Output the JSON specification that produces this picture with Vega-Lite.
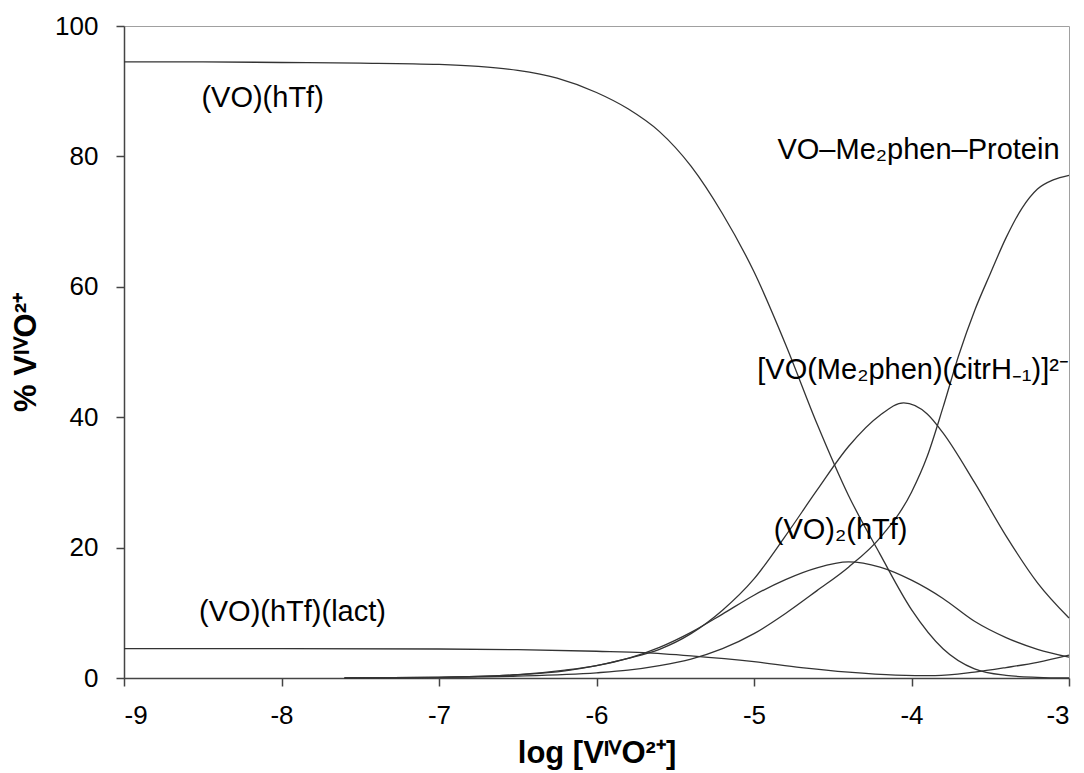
{
  "$schema": "https://vega.github.io/schema/vega-lite/v6.json",
  "width": 945,
  "height": 652,
  "autosize": {"type": "none"},
  "padding": {"left": 124, "top": 26, "right": 15, "bottom": 95},
  "background": "white",
  "config": {
    "view": {"stroke": "#a0a0a0", "strokeWidth": 1},
    "font": "Liberation Sans",
    "axis": {
      "grid": false,
      "domainColor": "#444444",
      "domainWidth": 1.5,
      "tickColor": "#444444",
      "tickWidth": 1.5,
      "tickSize": 8,
      "labelFont": "Liberation Sans",
      "labelFontSize": 26,
      "labelColor": "#000000",
      "titleFont": "Liberation Sans",
      "titleFontSize": 31,
      "titleFontWeight": "bold",
      "titleColor": "#000000"
    }
  },
  "datasets": {
    "curves": [
      {"species": "VOhTf", "x": -9.0, "y": 94.5},
      {"species": "VOhTf", "x": -8.5, "y": 94.5},
      {"species": "VOhTf", "x": -8.0, "y": 94.4},
      {"species": "VOhTf", "x": -7.5, "y": 94.3},
      {"species": "VOhTf", "x": -7.0, "y": 94.1},
      {"species": "VOhTf", "x": -6.75, "y": 93.8},
      {"species": "VOhTf", "x": -6.5, "y": 93.2},
      {"species": "VOhTf", "x": -6.25, "y": 92.0},
      {"species": "VOhTf", "x": -6.0, "y": 89.8},
      {"species": "VOhTf", "x": -5.8, "y": 87.3},
      {"species": "VOhTf", "x": -5.6, "y": 83.8},
      {"species": "VOhTf", "x": -5.4, "y": 78.5},
      {"species": "VOhTf", "x": -5.2, "y": 71.2},
      {"species": "VOhTf", "x": -5.0, "y": 62.3},
      {"species": "VOhTf", "x": -4.8, "y": 51.2},
      {"species": "VOhTf", "x": -4.6, "y": 39.0},
      {"species": "VOhTf", "x": -4.4, "y": 28.0},
      {"species": "VOhTf", "x": -4.2, "y": 19.0},
      {"species": "VOhTf", "x": -4.0, "y": 10.5},
      {"species": "VOhTf", "x": -3.8, "y": 4.5},
      {"species": "VOhTf", "x": -3.6, "y": 1.4},
      {"species": "VOhTf", "x": -3.4, "y": 0.4},
      {"species": "VOhTf", "x": -3.2, "y": 0.1},
      {"species": "VOhTf", "x": -3.0, "y": 0.0},

      {"species": "Protein", "x": -7.6, "y": 0.0},
      {"species": "Protein", "x": -7.0, "y": 0.1},
      {"species": "Protein", "x": -6.5, "y": 0.3},
      {"species": "Protein", "x": -6.0, "y": 0.8},
      {"species": "Protein", "x": -5.8, "y": 1.2},
      {"species": "Protein", "x": -5.6, "y": 1.9},
      {"species": "Protein", "x": -5.4, "y": 2.9},
      {"species": "Protein", "x": -5.2, "y": 4.5},
      {"species": "Protein", "x": -5.0, "y": 6.8},
      {"species": "Protein", "x": -4.8, "y": 9.9},
      {"species": "Protein", "x": -4.6, "y": 13.4},
      {"species": "Protein", "x": -4.4, "y": 17.0},
      {"species": "Protein", "x": -4.2, "y": 21.5},
      {"species": "Protein", "x": -4.0, "y": 28.5},
      {"species": "Protein", "x": -3.9, "y": 34.0},
      {"species": "Protein", "x": -3.8, "y": 41.5},
      {"species": "Protein", "x": -3.7, "y": 49.5},
      {"species": "Protein", "x": -3.6, "y": 56.3},
      {"species": "Protein", "x": -3.5, "y": 62.0},
      {"species": "Protein", "x": -3.4, "y": 67.5},
      {"species": "Protein", "x": -3.3, "y": 72.0},
      {"species": "Protein", "x": -3.2, "y": 75.0},
      {"species": "Protein", "x": -3.1, "y": 76.4},
      {"species": "Protein", "x": -3.0, "y": 77.1},

      {"species": "Citr", "x": -7.6, "y": 0.0},
      {"species": "Citr", "x": -7.0, "y": 0.1},
      {"species": "Citr", "x": -6.5, "y": 0.5},
      {"species": "Citr", "x": -6.2, "y": 1.1},
      {"species": "Citr", "x": -6.0, "y": 1.9},
      {"species": "Citr", "x": -5.8, "y": 3.0},
      {"species": "Citr", "x": -5.6, "y": 4.4},
      {"species": "Citr", "x": -5.4, "y": 6.8},
      {"species": "Citr", "x": -5.2, "y": 10.4},
      {"species": "Citr", "x": -5.0, "y": 15.2},
      {"species": "Citr", "x": -4.8, "y": 21.8},
      {"species": "Citr", "x": -4.6, "y": 28.8},
      {"species": "Citr", "x": -4.4, "y": 35.5},
      {"species": "Citr", "x": -4.2, "y": 40.3},
      {"species": "Citr", "x": -4.05, "y": 42.2},
      {"species": "Citr", "x": -3.9, "y": 40.5},
      {"species": "Citr", "x": -3.8, "y": 37.6},
      {"species": "Citr", "x": -3.6, "y": 30.0},
      {"species": "Citr", "x": -3.4, "y": 21.8},
      {"species": "Citr", "x": -3.2, "y": 14.6},
      {"species": "Citr", "x": -3.0, "y": 9.2},

      {"species": "VO2hTf", "x": -7.6, "y": 0.0},
      {"species": "VO2hTf", "x": -7.0, "y": 0.1},
      {"species": "VO2hTf", "x": -6.5, "y": 0.5},
      {"species": "VO2hTf", "x": -6.2, "y": 1.2},
      {"species": "VO2hTf", "x": -6.0, "y": 1.9},
      {"species": "VO2hTf", "x": -5.8, "y": 3.0},
      {"species": "VO2hTf", "x": -5.6, "y": 4.7},
      {"species": "VO2hTf", "x": -5.4, "y": 7.0},
      {"species": "VO2hTf", "x": -5.2, "y": 9.8},
      {"species": "VO2hTf", "x": -5.0, "y": 12.7},
      {"species": "VO2hTf", "x": -4.8, "y": 15.1},
      {"species": "VO2hTf", "x": -4.6, "y": 16.9},
      {"species": "VO2hTf", "x": -4.4, "y": 17.8},
      {"species": "VO2hTf", "x": -4.2, "y": 17.0},
      {"species": "VO2hTf", "x": -4.0, "y": 15.0},
      {"species": "VO2hTf", "x": -3.8, "y": 12.2},
      {"species": "VO2hTf", "x": -3.6, "y": 8.7},
      {"species": "VO2hTf", "x": -3.4, "y": 6.2},
      {"species": "VO2hTf", "x": -3.2, "y": 4.4},
      {"species": "VO2hTf", "x": -3.0, "y": 3.2},

      {"species": "Lact", "x": -9.0, "y": 4.5},
      {"species": "Lact", "x": -8.0, "y": 4.5},
      {"species": "Lact", "x": -7.0, "y": 4.45},
      {"species": "Lact", "x": -6.5, "y": 4.35},
      {"species": "Lact", "x": -6.0, "y": 4.1},
      {"species": "Lact", "x": -5.7, "y": 3.9},
      {"species": "Lact", "x": -5.4, "y": 3.4},
      {"species": "Lact", "x": -5.0, "y": 2.5},
      {"species": "Lact", "x": -4.7, "y": 1.6},
      {"species": "Lact", "x": -4.4, "y": 0.9},
      {"species": "Lact", "x": -4.1, "y": 0.45},
      {"species": "Lact", "x": -3.85, "y": 0.35},
      {"species": "Lact", "x": -3.6, "y": 0.9},
      {"species": "Lact", "x": -3.4, "y": 1.6},
      {"species": "Lact", "x": -3.2, "y": 2.4},
      {"species": "Lact", "x": -3.0, "y": 3.5}
    ],
    "labels": [
      {"text": "(VO)(hTf)", "x": -8.12, "y": 89.0, "align": "center"},
      {"text": "VO–Me₂phen–Protein", "x": -3.06, "y": 81.0, "align": "right"},
      {"text": "[VO(Me₂phen)(citrH₋₁)]²⁻", "x": -3.0, "y": 47.2, "align": "right"},
      {"text": "(VO)₂(hTf)", "x": -4.45, "y": 22.7, "align": "center"},
      {"text": "(VO)(hTf)(lact)", "x": -7.93, "y": 10.1, "align": "center"}
    ]
  },
  "layer": [
    {
      "data": {"name": "curves"},
      "mark": {"type": "line", "interpolate": "monotone", "color": "#333333", "strokeWidth": 1.3},
      "encoding": {
        "x": {
          "field": "x", "type": "quantitative",
          "scale": {"domain": [-9, -3], "nice": false, "zero": false},
          "axis": {"values": [-9, -8, -7, -6, -5, -4, -3], "labelExpr": "'' + datum.value", "labelPadding": 16, "title": "log [VᴵⱽO²⁺]", "titlePadding": 10}
        },
        "y": {
          "field": "y", "type": "quantitative",
          "scale": {"domain": [0, 100], "nice": false},
          "axis": {"values": [0, 20, 40, 60, 80, 100], "labelPadding": 18, "title": "% VᴵⱽO²⁺", "titlePadding": 12}
        },
        "detail": {"field": "species"}
      }
    },
    {
      "data": {"name": "labels"},
      "transform": [{"filter": "datum.align === 'center'"}],
      "mark": {"type": "text", "fontSize": 29, "font": "Liberation Sans", "color": "#000000", "baseline": "middle", "align": "center"},
      "encoding": {
        "x": {"field": "x", "type": "quantitative"},
        "y": {"field": "y", "type": "quantitative"},
        "text": {"field": "text"}
      }
    },
    {
      "data": {"name": "labels"},
      "transform": [{"filter": "datum.align === 'right'"}],
      "mark": {"type": "text", "fontSize": 29, "font": "Liberation Sans", "color": "#000000", "baseline": "middle", "align": "right"},
      "encoding": {
        "x": {"field": "x", "type": "quantitative"},
        "y": {"field": "y", "type": "quantitative"},
        "text": {"field": "text"}
      }
    }
  ]
}
